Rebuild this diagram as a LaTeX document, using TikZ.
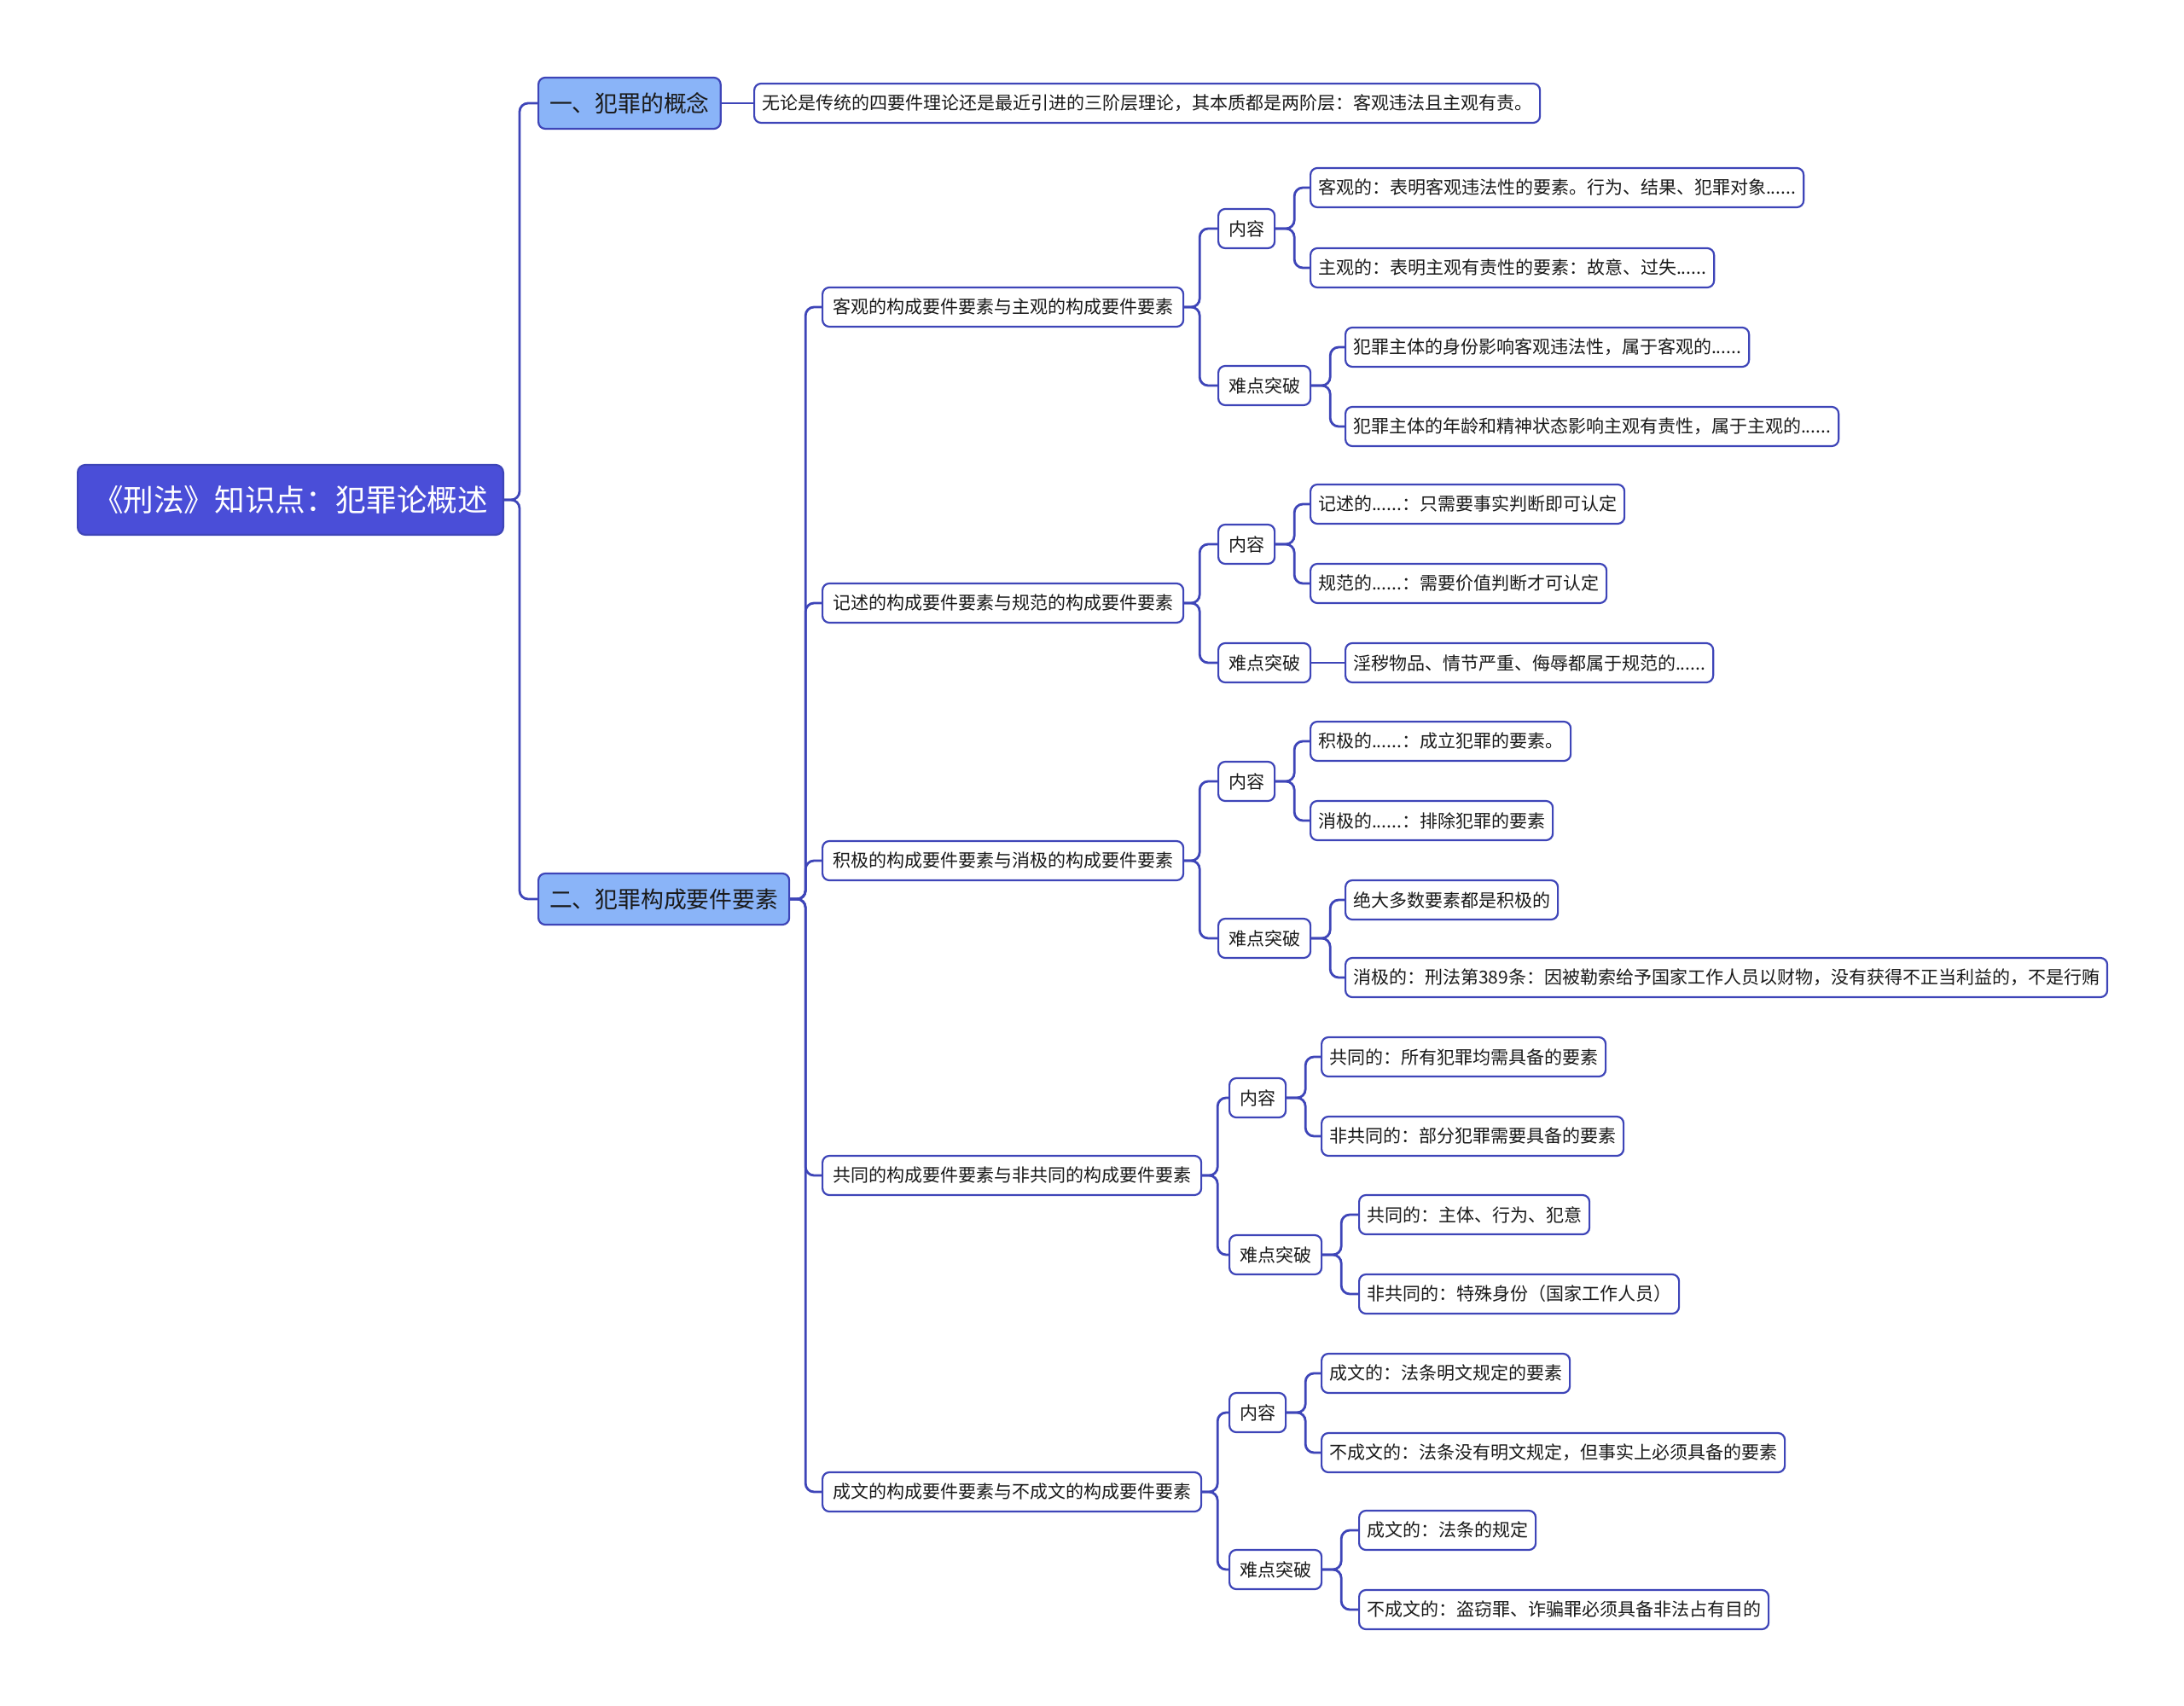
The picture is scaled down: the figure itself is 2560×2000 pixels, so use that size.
\documentclass[tikz,border=0pt]{standalone}
\usepackage{fontspec}
\setmainfont{Noto Sans CJK SC}

\definecolor{rootblue}{HTML}{4A4ED8}
\definecolor{lineblue}{HTML}{3E45B8}
\definecolor{topicblue}{HTML}{8AB4F8}
\definecolor{inkgray}{HTML}{1A1A1A}

\tikzset{
  rootbox/.style={draw=lineblue, fill=rootblue, text=white, rounded corners=4.5pt, line width=1.1pt,
    inner xsep=9pt, minimum height=41pt, font=\fontsize{17.8}{20}\selectfont, anchor=west},
  topicbox/.style={draw=lineblue, fill=topicblue, text=inkgray, rounded corners=4pt, line width=1.1pt,
    inner xsep=6.5pt, minimum height=30pt, font=\fontsize{13.4}{16}\selectfont, anchor=west},
  leafbox/.style={draw=lineblue, fill=white, text=inkgray, rounded corners=4pt, line width=1.1pt,
    inner xsep=4.5pt, minimum height=23pt, font=\fontsize{10.5}{12}\selectfont, anchor=west},
  midbox/.style={leafbox, inner xsep=6pt},
  link/.style={draw=lineblue, line width=1.4pt, rounded corners=5pt}
}

\begin{document}
\begin{tikzpicture}[x=0.5pt,y=-0.5pt]
\useasboundingbox (0,0) rectangle (2560,2000);

% Root
\node[rootbox] (root) at (90,586) {《刑法》知识点：犯罪论概述};

% Topics
\node[topicbox] (c1) at (630,121) {一、犯罪的概念};
\node[topicbox] (c2) at (630,1054) {二、犯罪构成要件要素};

% Topic 1 leaf
\node[leafbox] (c1a) at (883,121) {无论是传统的四要件理论还是最近引进的三阶层理论，其本质都是两阶层：客观违法且主观有责。};

% Topic 2 subtopics
\node[midbox] (s1) at (963,360) {客观的构成要件要素与主观的构成要件要素};
\node[midbox] (s2) at (963,707) {记述的构成要件要素与规范的构成要件要素};
\node[midbox] (s3) at (963,1009) {积极的构成要件要素与消极的构成要件要素};
\node[midbox] (s4) at (963,1378) {共同的构成要件要素与非共同的构成要件要素};
\node[midbox] (s5) at (963,1749) {成文的构成要件要素与不成文的构成要件要素};

% s1
\node[midbox] (k1) at (1427,268) {内容};
\node[midbox] (d1) at (1427,452) {难点突破};
\node[leafbox] (k1a) at (1535,220) {客观的：表明客观违法性的要素。行为、结果、犯罪对象......};
\node[leafbox] (k1b) at (1535,314) {主观的：表明主观有责性的要素：故意、过失......};
\node[leafbox] (d1a) at (1576,407) {犯罪主体的身份影响客观违法性，属于客观的......};
\node[leafbox] (d1b) at (1576,500) {犯罪主体的年龄和精神状态影响主观有责性，属于主观的......};

% s2
\node[midbox] (k2) at (1427,638) {内容};
\node[midbox] (d2) at (1427,777) {难点突破};
\node[leafbox] (k2a) at (1535,591) {记述的......：只需要事实判断即可认定};
\node[leafbox] (k2b) at (1535,684) {规范的......：需要价值判断才可认定};
\node[leafbox] (d2a) at (1576,777) {淫秽物品、情节严重、侮辱都属于规范的......};

% s3
\node[midbox] (k3) at (1427,916) {内容};
\node[midbox] (d3) at (1427,1100) {难点突破};
\node[leafbox] (k3a) at (1535,869) {积极的......：成立犯罪的要素。};
\node[leafbox] (k3b) at (1535,962) {消极的......：排除犯罪的要素};
\node[leafbox] (d3a) at (1576,1055) {绝大多数要素都是积极的};
\node[leafbox] (d3b) at (1576,1146) {消极的：刑法第389条：因被勒索给予国家工作人员以财物，没有获得不正当利益的，不是行贿};

% s4
\node[midbox] (k4) at (1440,1287) {内容};
\node[midbox] (d4) at (1440,1471) {难点突破};
\node[leafbox] (k4a) at (1548,1239) {共同的：所有犯罪均需具备的要素};
\node[leafbox] (k4b) at (1548,1332) {非共同的：部分犯罪需要具备的要素};
\node[leafbox] (d4a) at (1592,1424) {共同的：主体、行为、犯意};
\node[leafbox] (d4b) at (1592,1517) {非共同的：特殊身份（国家工作人员）};

% s5
\node[midbox] (k5) at (1440,1656) {内容};
\node[midbox] (d5) at (1440,1840) {难点突破};
\node[leafbox] (k5a) at (1548,1610) {成文的：法条明文规定的要素};
\node[leafbox] (k5b) at (1548,1703) {不成文的：法条没有明文规定，但事实上必须具备的要素};
\node[leafbox] (d5a) at (1592,1794) {成文的：法条的规定};
\node[leafbox] (d5b) at (1592,1887) {不成文的：盗窃罪、诈骗罪必须具备非法占有目的};

% Links
\foreach \c in {c1,c2}
  \draw[link] (root.east) -- ++(18,0) |- (\c.west);
\draw[link] (c1.east) -- (c1a.west);
\foreach \c in {s1,s2,s3,s4,s5}
  \draw[link] (c2.east) -- ++(18,0) |- (\c.west);
\foreach \i in {1,...,5}{
  \draw[link] (s\i.east) -- ++(18,0) |- (k\i.west);
  \draw[link] (s\i.east) -- ++(18,0) |- (d\i.west);
  \draw[link] (k\i.east) -- ++(22,0) |- (k\i a.west);
  \draw[link] (k\i.east) -- ++(22,0) |- (k\i b.west);
}
\foreach \i in {1,3,4,5}{
  \draw[link] (d\i.east) -- ++(22,0) |- (d\i a.west);
  \draw[link] (d\i.east) -- ++(22,0) |- (d\i b.west);
}
\draw[link] (d2.east) -- (d2a.west);

\end{tikzpicture}
\end{document}
